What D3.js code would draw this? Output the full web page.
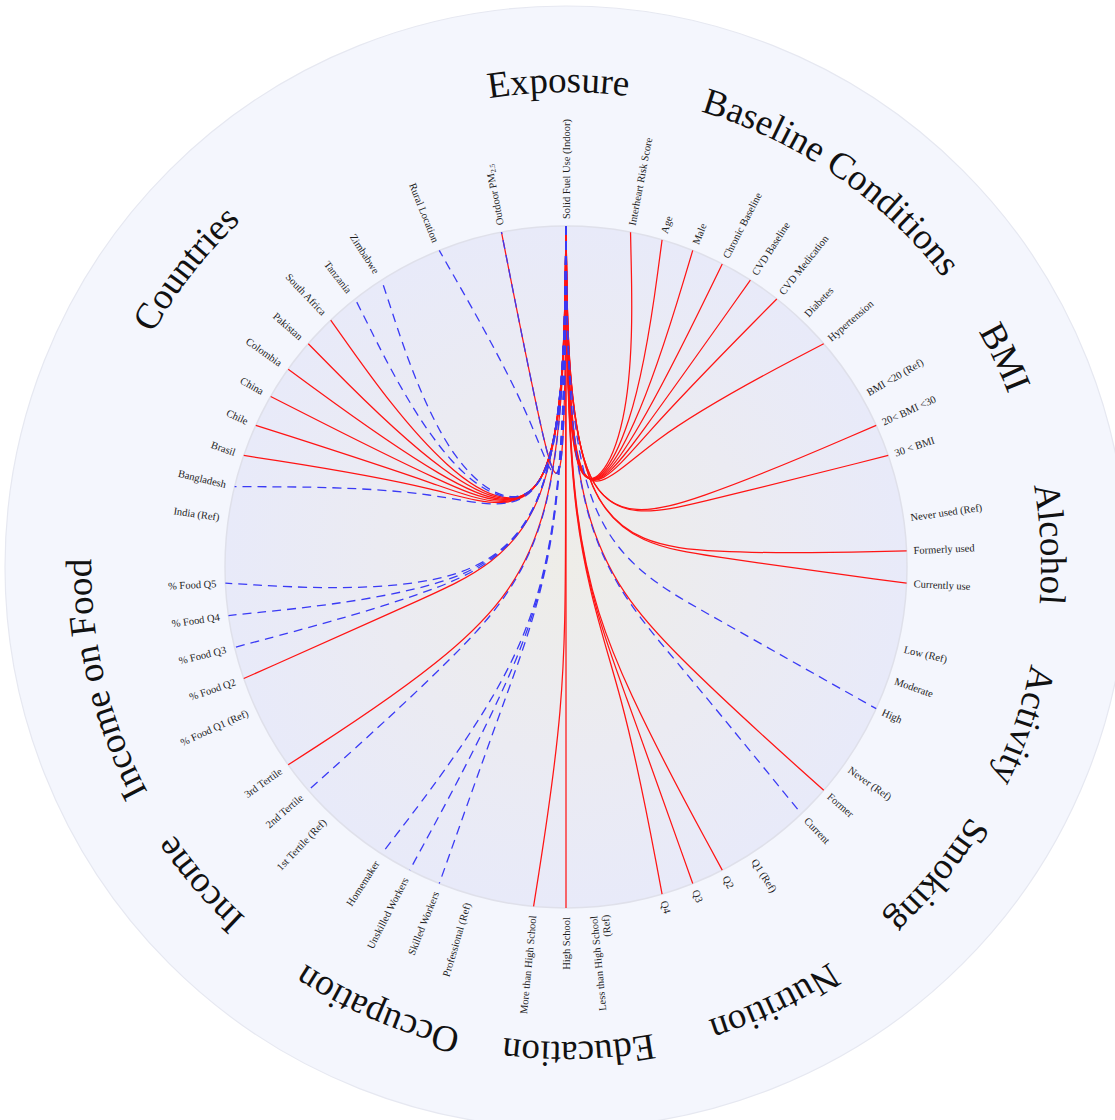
<!DOCTYPE html>
<html>
<head>
<meta charset="utf-8">
<script src="https://cdn.jsdelivr.net/npm/d3@7"></script>
<style>
  html, body { margin: 0; padding: 0; background: #ffffff; }
  svg { display: block; }
  text { font-family: "Liberation Serif", "Times New Roman", serif; }
</style>
</head>
<body>
<svg id="chart" width="1115" height="1120"></svg>
<script>
// ---- Domains and their levels, clockwise from the top ----
const domains = ["Exposure", "Baseline Conditions", "BMI", "Alcohol", "Activity", "Smoking",
                 "Nutrition", "Education", "Occupation", "Income", "Income on Food", "Countries"];

// empty strings are unlabeled spacer positions inside the exposure domain
const exposureLevels   = ["Rural Location", "", "Outdoor PM2.5", "", "Solid Fuel Use (Indoor)"];
const baselineLevels   = ["Interheart Risk Score", "Age", "Male", "Chronic Baseline", "CVD Baseline",
                          "CVD Medication", "Diabetes", "Hypertension"];
const bmiLevels        = ["BMI <20 (Ref)", "20< BMI <30", "30 < BMI"];
const alcoholLevels    = ["Never used  (Ref)", "Formerly used", "Currently use"];
const activityLevels   = ["Low (Ref)", "Moderate", "High"];
const smokingLevels    = ["Never (Ref)", "Former", "Current"];
const nutritionLevels  = ["Q1 (Ref)", "Q2", "Q3", "Q4"];
const educationLevels  = ["Less than High School\n(Ref)", "High School", "More than High School"];
const occupationLevels = ["Professional (Ref)", "Skilled Workers", "Unskilled Workers", "Homemaker"];
const incomeLevels     = ["1st Tertile (Ref)", "2nd Tertile", "3rd Tertile"];
const foodShareLevels  = ["% Food Q1  (Ref)", "% Food Q2", "% Food Q3", "% Food Q4", "% Food Q5"];
const countryLevels    = ["India (Ref)", "Bangladesh", "Brasil", "Chile", "China", "Colombia",
                          "Pakistan", "South Africa", "Tanzania", "Zimbabwe"];

// ---- Associations with the exposure of interest ----
const sourceLevel = "Solid Fuel Use (Indoor)";
const positiveAssociations = [
  "Outdoor PM2.5", "Interheart Risk Score", "Age", "Male", "Chronic Baseline", "CVD Baseline",
  "CVD Medication", "Hypertension", "20< BMI <30", "30 < BMI", "Formerly used", "Currently use",
  "Former", "Q2", "Q3", "Q4", "High School", "More than High School", "3rd Tertile", "% Food Q2",
  "Brasil", "Chile", "China", "Colombia", "Pakistan", "South Africa"
];
const negativeAssociations = [
  "Rural Location", "Outdoor PM2.5", "High", "Current", "Skilled Workers", "Unskilled Workers",
  "Homemaker", "2nd Tertile", "% Food Q3", "% Food Q4", "% Food Q5",
  "Bangladesh", "Tanzania", "Zimbabwe"
];

// ---- Layout ----
const allLevels = [exposureLevels, baselineLevels, bmiLevels, alcoholLevels, activityLevels,
  smokingLevels, nutritionLevels, educationLevels, occupationLevels, incomeLevels,
  foodShareLevels, countryLevels];

const cx = 566, cy = 567;
const rOuter = 561, rInner = 341, rHub = 140;
const core = [0, 25];                  // polar position (deg, px) of the shared bundling point
const rLevelLabel = 348, rDomainLabel = 475;

// every level takes one slot; one empty slot separates consecutive domains
const nodes = [];
const domainInfo = [];
let slot = 0;
allLevels.forEach((levels, gi) => {
  const first = slot;
  levels.forEach(name => { nodes.push({ name, domain: gi, slot }); slot++; });
  domainInfo.push({ name: domains[gi], first, last: slot - 1 });
  slot++;
});
const totalSlots = slot;
const sourceSlot = nodes.find(n => n.name === sourceLevel).slot;
const slotAngle = s => (s - sourceSlot) * 360 / totalSlots;            // degrees, may be negative
const norm = a => ((a % 360) + 360) % 360;

domainInfo.forEach((d, gi) => {
  const filled = nodes.filter(n => n.domain === gi && n.name);
  d.mid = d3.mean(filled, n => slotAngle(n.slot));
});

// small angular nudges for the domain titles along the outer ring
const titleNudge = { "Exposure": 10, "Baseline Conditions": 4.5, "Countries": 5.4,
  "BMI": -1, "Smoking": -1.2, "Nutrition": -1, "Education": -1.5, "Occupation": -1.5 };

const svg = d3.select("#chart");
const defs = svg.append("defs");

const grad = defs.append("radialGradient").attr("id", "innerFill")
  .attr("cx", "50%").attr("cy", "50%").attr("r", "50%");
grad.append("stop").attr("offset", "0%").attr("stop-color", "#eeede8");
grad.append("stop").attr("offset", "55%").attr("stop-color", "#ebebf2");
grad.append("stop").attr("offset", "100%").attr("stop-color", "#e8eaf9");

const root = svg.append("g").attr("transform", `translate(${cx},${cy})`);

// background discs
root.append("circle").attr("r", rOuter)
  .attr("fill", "#f4f6fd").attr("stroke", "#e6e8f1").attr("stroke-width", 1.2);
root.append("circle").attr("r", rInner)
  .attr("fill", "url(#innerFill)").attr("stroke", "#dfe0ea").attr("stroke-width", 1.5);

// ---- Bundled links: source -> core -> domain hub -> level ----
const toRad = Math.PI / 180;
const linkLine = d3.lineRadial()
  .curve(d3.curveBundle.beta(0.96))
  .angle(d => d[0] * toRad)
  .radius(d => d[1]);

const sourceAngle = slotAngle(sourceSlot);
function linkPoints(name) {
  const n = nodes.find(m => m.name === name);
  const d = domainInfo[n.domain];
  return [[sourceAngle, rInner], core, [d.mid, rHub], [slotAngle(n.slot), rInner]];
}

const linkLayer = root.append("g").attr("fill", "none");
linkLayer.selectAll("path.pos").data(positiveAssociations).join("path")
  .attr("class", "pos")
  .attr("d", d => linkLine(linkPoints(d)))
  .attr("stroke", "#ff1414").attr("stroke-width", 1.25);
linkLayer.selectAll("path.neg").data(negativeAssociations).join("path")
  .attr("class", "neg")
  .attr("d", d => linkLine(linkPoints(d)))
  .attr("stroke", "#3a3af5").attr("stroke-width", 1.3)
  .attr("stroke-dasharray", "9,6");

// ---- Level labels ----
const labelLayer = root.append("g").attr("font-size", 10.5).attr("fill", "#1c1c1c");
nodes.filter(n => n.name).forEach(n => {
  const a = norm(slotAngle(n.slot));
  const flip = a > 168 && a < 344;
  const t = labelLayer.append("text")
    .attr("transform", `rotate(${a - 90}) translate(${flip ? rLevelLabel + 2 : rLevelLabel},0)` +
      (flip ? " rotate(180)" : ""))
    .attr("text-anchor", flip ? "end" : "start");
  const lines = n.name.split("\n");
  lines.forEach((ln, i) => {
    const ts = t.append("tspan").attr("x", 0)
      .attr("dy", i === 0 ? `${0.35 - (lines.length - 1) * 0.55}em` : "1.1em");
    const m = ln.match(/^(.*PM)(2\.5)(.*)$/);
    if (m) {
      ts.append("tspan").text(m[1]);
      ts.append("tspan").attr("font-size", "70%").attr("dy", "0.3em").text(m[2]);
      ts.append("tspan").attr("dy", "-0.3em").text(m[3]);
    } else {
      ts.text(ln);
    }
  });
});

// ---- Domain titles on the outer ring ----
domainInfo.forEach((d, i) => {
  const c = d.mid + (titleNudge[d.name] || 0);
  const a0 = (c - 90) * toRad, a1 = (c + 90) * toRad;
  const p0 = [rDomainLabel * Math.sin(a0), -rDomainLabel * Math.cos(a0)];
  const p1 = [rDomainLabel * Math.sin(a1), -rDomainLabel * Math.cos(a1)];
  defs.append("path").attr("id", `domainArc${i}`)
    .attr("d", `M${p0[0] + cx},${p0[1] + cy} A${rDomainLabel},${rDomainLabel} 0 0 1 ${p1[0] + cx},${p1[1] + cy}`);
  svg.append("text").attr("font-size", 37).attr("fill", "#111")
    .append("textPath").attr("href", `#domainArc${i}`)
    .attr("startOffset", "50%").attr("text-anchor", "middle")
    .text(d.name);
});
</script>
</body>
</html>
